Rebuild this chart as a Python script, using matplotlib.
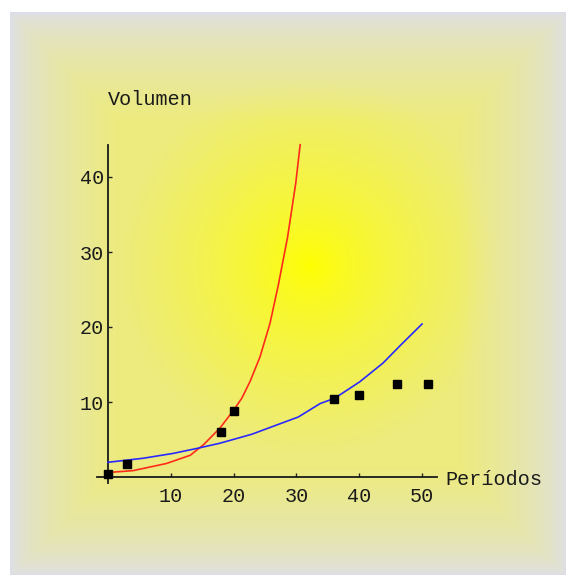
import numpy as np
import matplotlib
matplotlib.use("Agg")
import matplotlib.pyplot as plt

# ---- data ----
red_x = [0, 4, 9.3, 13.1, 15.2, 17.8, 20, 21.3, 22.6, 24.2, 25.8, 27.1, 28.6, 29.9, 30.6]
red_y = [0.6, 0.85, 1.8, 2.9, 4.3, 6.5, 8.9, 10.5, 12.7, 16.0, 20.5, 25.5, 32.0, 39.2, 44.3]

blue_x = [0, 5.6, 10.4, 14.1, 17.8, 22.9, 27.4, 30.3, 33.8, 36.1, 40.1, 43.8, 46.5, 50]
blue_y = [1.96, 2.5, 3.15, 3.8, 4.5, 5.7, 7.1, 8.0, 9.8, 10.5, 12.7, 15.2, 17.5, 20.4]

pts_x = [0, 3, 18, 20, 36, 40, 46, 51]
pts_y = [0.4, 1.7, 6.0, 8.8, 10.4, 10.9, 12.4, 12.4]

xticks = [10, 20, 30, 40, 50]
yticks = [10, 20, 30, 40]
xlabel = "Períodos"
ylabel = "Volumen"

W, H = 566, 575
fig = plt.figure(figsize=(W / 100, H / 100), dpi=100)

# ---- background gradient ----
bg = fig.add_axes([0, 0, 1, 1], zorder=-10)
yy, xx = np.mgrid[0:H, 0:W].astype(float)
cx, cy = 310.0, 265.0
r = np.sqrt((xx - cx) ** 2 + (yy - cy) ** 2) / 190.0
t = np.clip(r, 0, 1) ** 0.75
yellow = np.array([255, 255, 0], float)
mid = np.array([237, 235, 125], float)
inner = yellow[None, None, :] * (1 - t[..., None]) + mid[None, None, :] * t[..., None]
L, T, R, B = 10, 12, W, H
d = np.minimum.reduce([xx - L, yy - T, R - xx, B - yy])
e = np.clip(d / 110.0, 0, 1) ** 0.6
lav = np.array([221, 222, 236], float)
img = lav[None, None, :] * (1 - e[..., None]) + inner * e[..., None]
outside = (xx < L) | (yy < T)
img[outside] = 255
bg.imshow(img.astype(np.uint8), aspect="auto", interpolation="bilinear")
bg.axis("off")

# ---- main axes ----
x0px, xs = 108.0, 6.28
y0px, ys = 477.0, 7.5
xlim = (-5, 70)
ylim = (-5, 50)
left = (x0px + xs * xlim[0]) / W
right = (x0px + xs * xlim[1]) / W
top = (y0px - ys * ylim[1])
bottom = (y0px - ys * ylim[0])
ax = fig.add_axes([left, 1 - bottom / H, right - left, (bottom - top) / H])
ax.set_xlim(*xlim)
ax.set_ylim(*ylim)
ax.patch.set_alpha(0)

for s in ["top", "right"]:
    ax.spines[s].set_visible(False)
ax.spines["left"].set_position(("data", 0))
ax.spines["bottom"].set_position(("data", 0))
ax.spines["left"].set_bounds(-0.8, 44.3)
ax.spines["bottom"].set_bounds(-1.7, 52.4)
for s in ["left", "bottom"]:
    ax.spines[s].set_color("#1a1a1a")
    ax.spines[s].set_linewidth(1.3)

font = dict(family="Liberation Mono", size=14.5, color="#1a1a1a")
ax.set_xticks(xticks)
ax.set_yticks(yticks)
ax.set_xticklabels([str(v) for v in xticks], **font)
ax.set_yticklabels([str(v) for v in yticks], **font)
ax.tick_params(axis="x", direction="in", length=3, width=1, color="#222222", pad=7)
ax.tick_params(axis="y", direction="in", length=3, width=1, color="#222222", pad=3)

ax.plot(red_x, red_y, color="#ff2a1a", lw=1.2, zorder=3)
ax.plot(blue_x, blue_y, color="#2a2aff", lw=1.2, zorder=3)
ax.plot(pts_x, pts_y, "s", color="black", ms=5.5, zorder=4)

ax.text(0, 50.3, ylabel, ha="left", va="center", clip_on=False, **font)
ax.text(53.7, -0.3, xlabel, ha="left", va="center", clip_on=False, **font)

fig.savefig("out.png", dpi=100)
